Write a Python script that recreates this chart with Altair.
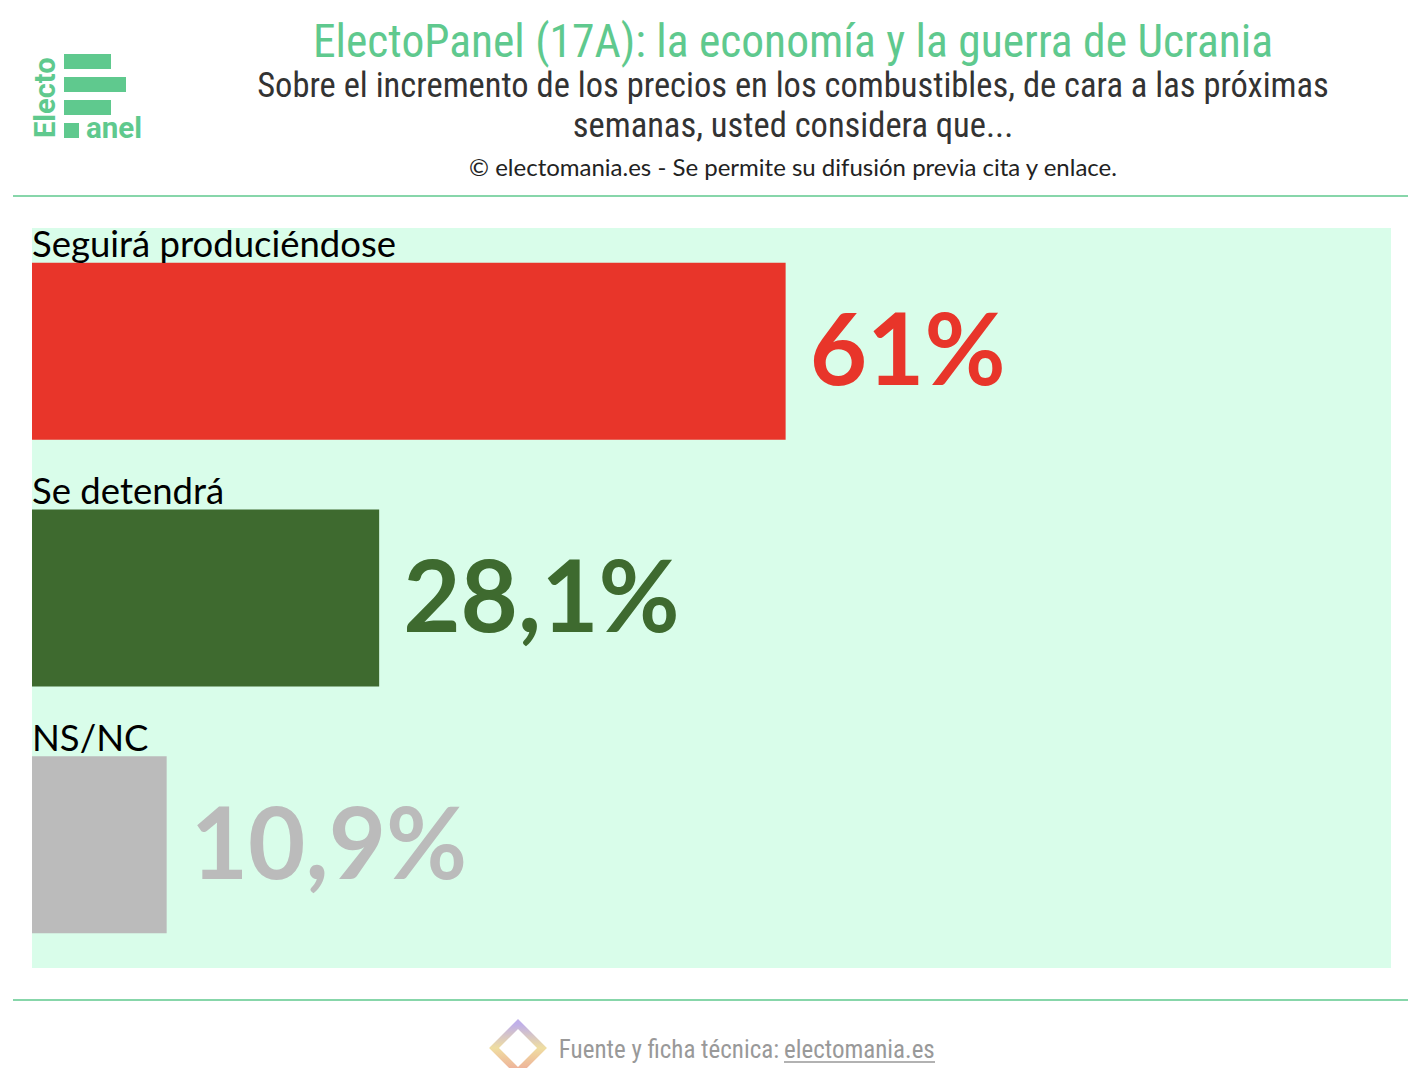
import altair as alt
import pandas as pd

categories = ["Seguirá produciéndose", "Se detendrá", "NS/NC"]
values = [61, 28.1, 10.9]
value_labels = ["61%", "28,1%", "10,9%"]
colors = ["#e8352a", "#3e6a2f", "#bbbbbb"]

title_text = "ElectoPanel (17A): la economía y la guerra de Ucrania"
subtitle_lines = ["Sobre el incremento de los precios en los combustibles, de cara a las próximas",
                  "semanas, usted considera que..."]
copyright_text = "© electomania.es - Se permite su difusión previa cita y enlace."
footer_a = "Fuente y ficha técnica: "
footer_b = "electomania.es"

df = pd.DataFrame({"cat": categories, "val": values, "lab": value_labels, "col": colors})

W, H = 1359, 740
GREEN = "#5fc98e"
COND = "Roboto Condensed, Liberation Sans Narrow, Roboto"
one = alt.Data(values=[{}])

x = alt.X("val:Q", scale=alt.Scale(domain=[0, 110], range=[0, W]), axis=None)
y = alt.Y("cat:N", sort=categories, scale=alt.Scale(paddingInner=0, paddingOuter=0), axis=None)
color = alt.Color("col:N", scale=None, legend=None)

bars = alt.Chart(df).mark_bar(size=177).encode(x=x, y=y, color=color)
vals = alt.Chart(df).mark_text(align="left", baseline="alphabetic", dx=24, dy=34,
                               font="Lato", fontSize=99, fontWeight="bold").encode(
    x=x, y=y, text="lab:N", color=color)
cats = alt.Chart(df).mark_text(align="left", baseline="alphabetic", dy=-94,
                               font="Lato", fontSize=36.5, color="black").encode(
    x=alt.value(0), y=y, text="cat:N")

def txt(s, xv, yv, **kw):
    return alt.Chart(one).mark_text(text=s, **kw).encode(x=alt.value(xv), y=alt.value(yv))

def rule(x1, x2, yv, c=GREEN, w=1.5):
    return alt.Chart(one).mark_rule(color=c, strokeWidth=w).encode(
        x=alt.value(x1), x2=alt.value(x2), y=alt.value(yv))

def rect(x1, x2, y1, y2, c=GREEN):
    return alt.Chart(one).mark_rect(color=c).encode(
        x=alt.value(x1), x2=alt.value(x2), y=alt.value(y1), y2=alt.value(y2))

header = [
    txt(title_text, 761, -171, align="center", baseline="alphabetic", font=COND, fontSize=45.5, color=GREEN),
    txt(subtitle_lines[0], 761, -131, align="center", baseline="alphabetic", font=COND, fontSize=34.5, color="#333333"),
    txt(subtitle_lines[1], 761, -91, align="center", baseline="alphabetic", font=COND, fontSize=34.5, color="#333333"),
    txt(copyright_text, 761, -52, align="center", baseline="alphabetic", font="Lato", fontSize=24, color="#222222"),
    rule(-19, 1377, -32),
    rule(-19, 1377, 772),
    # logo
    rect(32, 79, -174, -159), rect(32, 94, -151, -136), rect(32, 79, -128, -113), rect(32, 47, -105, -90),
    txt("anel", 54, -90, align="left", baseline="alphabetic", font="Roboto", fontSize=29.5, fontWeight="bold", color=GREEN),
    txt("Electo", 23, -90, align="left", baseline="alphabetic", angle=270, font="Roboto", fontSize=29, fontWeight="bold", color=GREEN),
]

grad = alt.Gradient(gradient="linear", x1=0, y1=0, x2=1, y2=1,
                    stops=[alt.GradientStop(color="#a58ee0", offset=0),
                           alt.GradientStop(color="#e9d07a", offset=0.5),
                           alt.GradientStop(color="#e88a6e", offset=1)])
footer = [
    alt.Chart(one).mark_point(shape="square", size=1150, angle=45, filled=False,
                              stroke=grad, strokeWidth=7).encode(x=alt.value(486), y=alt.value(820)),
    txt(footer_a, 747, 830, align="right", baseline="alphabetic", font=COND, fontSize=25, color="#999999"),
    txt(footer_b, 752, 830, align="left", baseline="alphabetic", font=COND, fontSize=25, color="#999999"),
    rule(752, 903, 834, c="#999999", w=1.5),
]

chart = alt.layer(bars, vals, cats, *header, *footer).properties(
    width=W, height=H,
    autosize=alt.AutoSizeParams(type="none"),
    padding={"left": 24, "top": 220, "right": 17, "bottom": 100},
    background="white",
).configure_view(fill="#d9fdea", strokeWidth=0)

chart.save("out.html", embed_options={"renderer": "svg", "actions": False})
